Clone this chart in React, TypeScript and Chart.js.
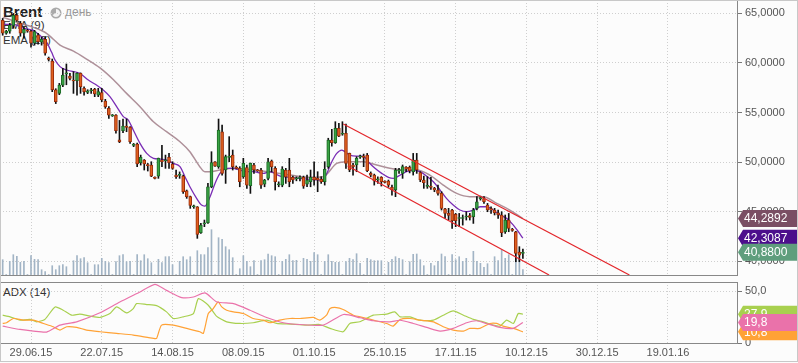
import React, { useEffect, useRef } from "react";
import { Chart, registerables } from "chart.js";
Chart.register(...registerables);

// ---------- DATA ----------
const OPEN = [
  64.3, 63.0, 63.2, 63.8, 64.8, 64.0, 63.0, 63.3, 63.2, 62.0,
  62.83, 62.1, 62.4, 60.5, 60.2, 57.3, 56.93, 57.77, 58.9, 58.68,
  58.28, 58.21, 58.95, 57.44, 57.03, 57.2, 57.34, 56.76, 57.0, 56.16,
  55.42, 54.66, 54.74, 52.25, 53.16, 53.63, 53.5, 51.68, 51.82, 49.93,
  50.2, 49.69, 49.69, 48.45, 48.58, 50.2, 50.13, 50.47, 49.8, 48.68,
  48.65, 48.58, 47.1, 46.5, 45.48, 45.48, 42.86, 43.76, 43.87, 47.5,
  50.03, 49.53, 53.06, 49.19, 50.47, 50.7, 49.46, 49.36, 48.52, 49.43,
  47.61, 49.69, 49.2, 49.19, 47.77, 48.35, 50.1, 49.36, 47.7, 47.67,
  49.19, 49.19, 48.45, 48.28, 48.35, 48.45, 47.77, 48.01, 48.45, 48.35,
  48.25, 48.01, 49.53, 52.22, 51.95, 53.4, 52.8, 52.9, 50.87, 49.7,
  49.7, 50.5, 50.6, 50.7, 48.85, 48.68, 48.2, 48.45, 48.08, 48.08,
  47.44, 47.17, 49.1, 48.85, 49.46, 49.46, 49.02, 50.2, 48.92, 48.18,
  47.54, 47.57, 47.34, 47.17, 46.83, 45.28, 44.81, 45.15, 44.71, 44.3,
  44.3, 44.45, 44.58, 44.48, 45.32, 46.3, 46.3, 45.65, 45.3, 45.15,
  44.88, 44.65, 42.96, 44.14, 43.2, 42.96, 40.9, 40.77,
];
const HIGH = [
  64.5, 63.3, 64.0, 65.0, 65.0, 64.2, 63.6, 63.4, 63.3, 63.3,
  63.0, 62.6, 62.6, 60.6, 60.4, 57.4, 57.94, 59.46, 59.9, 58.95,
  59.12, 59.0, 59.0, 57.6, 57.3, 57.44, 57.44, 57.44, 57.44, 56.33,
  55.59, 54.8, 54.8, 54.2, 54.34, 54.34, 53.57, 51.88, 51.9, 50.7,
  50.25, 49.86, 50.03, 48.5, 50.4, 51.68, 50.7, 50.87, 50.03, 49.19,
  49.0, 48.68, 47.17, 46.56, 45.65, 45.5, 43.8, 44.14, 47.84, 51.04,
  50.05, 54.34, 53.73, 50.7, 52.56, 51.21, 49.6, 49.53, 50.37, 49.69,
  49.9, 49.86, 49.25, 49.36, 48.25, 50.37, 50.2, 49.53, 48.0, 49.53,
  49.36, 50.37, 48.58, 48.5, 48.6, 48.58, 48.68, 49.19, 50.03, 49.02,
  48.52, 50.03, 52.4, 53.3, 54.07, 53.9, 54.07, 53.84, 50.9, 49.86,
  50.54, 50.7, 50.8, 50.87, 49.0, 48.78, 48.5, 48.52, 48.1, 48.18,
  47.67, 49.36, 49.36, 49.7, 49.53, 49.6, 50.87, 50.87, 49.02, 48.58,
  48.52, 48.45, 47.44, 47.67, 47.0, 45.32, 45.32, 45.22, 44.81, 44.81,
  44.65, 44.98, 44.81, 45.32, 46.5, 46.56, 46.5, 45.82, 45.48, 45.32,
  45.15, 44.98, 44.65, 44.81, 43.3, 43.0, 41.45, 41.2,
];
const LOW = [
  62.8, 62.9, 63.0, 63.5, 64.2, 62.7, 62.5, 63.1, 61.6, 61.8,
  61.9, 61.8, 60.8, 60.2, 57.1, 55.9, 56.8, 57.6, 57.8, 58.28,
  56.93, 56.76, 56.93, 56.76, 56.9, 56.93, 56.6, 56.6, 56.09, 55.42,
  54.41, 54.6, 52.9, 51.95, 52.96, 53.06, 51.88, 51.55, 49.53, 49.69,
  49.19, 49.09, 48.52, 48.3, 48.35, 49.53, 49.36, 49.36, 49.26, 48.35,
  48.35, 46.83, 46.33, 45.32, 45.32, 42.29, 42.79, 43.47, 43.8, 47.4,
  49.55, 49.36, 48.68, 47.84, 50.03, 49.19, 49.3, 47.5, 48.35, 47.34,
  46.83, 48.85, 49.05, 47.34, 47.5, 48.18, 49.0, 47.17, 47.5, 47.5,
  47.84, 47.5, 47.84, 48.1, 48.1, 47.34, 47.5, 47.5, 47.67, 47.0,
  47.84, 47.67, 49.36, 51.6, 51.88, 52.56, 52.7, 49.36, 49.02, 48.68,
  49.02, 50.37, 49.53, 49.02, 48.5, 47.67, 47.84, 47.57, 47.9, 47.44,
  46.66, 46.5, 48.85, 48.35, 49.02, 48.9, 48.68, 48.85, 48.01, 47.34,
  47.34, 47.24, 47.0, 46.66, 45.15, 44.3, 44.14, 43.3, 43.47, 43.47,
  43.63, 44.14, 44.14, 43.8, 45.15, 46.15, 45.82, 44.98, 44.81, 44.65,
  44.3, 42.46, 42.79, 42.96, 43.0, 39.93, 39.93, 40.26,
];
const CLOSE = [
  63.0, 63.2, 63.8, 64.8, 64.3, 63.0, 63.4, 63.2, 62.0, 63.16,
  62.15, 62.4, 61.0, 60.35, 57.3, 56.1, 57.77, 58.78, 59.0, 58.45,
  58.18, 58.95, 57.6, 57.1, 57.2, 57.27, 56.87, 57.1, 56.26, 55.59,
  54.74, 54.74, 53.16, 52.05, 53.63, 53.5, 52.05, 51.78, 49.8, 50.47,
  49.8, 49.63, 48.58, 48.35, 50.37, 50.03, 50.2, 49.93, 49.36, 48.52,
  48.75, 47.0, 46.5, 45.62, 45.58, 42.69, 43.63, 43.82, 47.5, 49.93,
  49.59, 53.23, 48.85, 50.54, 50.6, 49.53, 49.36, 48.01, 49.86, 47.67,
  49.86, 49.19, 49.1, 47.67, 48.18, 50.03, 49.5, 48.01, 47.8, 49.29,
  48.5, 48.01, 48.18, 48.4, 48.45, 47.57, 48.18, 48.45, 48.18, 48.18,
  48.01, 49.26, 52.22, 51.95, 53.4, 52.62, 52.9, 49.86, 49.19, 49.53,
  50.37, 50.55, 50.47, 49.12, 48.68, 48.1, 48.3, 48.01, 47.94, 47.67,
  47.17, 49.19, 49.2, 49.53, 49.29, 49.12, 50.2, 49.19, 48.18, 47.91,
  47.6, 47.44, 47.17, 46.83, 45.32, 44.81, 44.61, 44.07, 44.07, 44.4,
  44.4, 44.5, 44.41, 45.15, 45.99, 46.4, 45.99, 45.15, 45.15, 44.88,
  44.65, 42.86, 44.14, 43.3, 43.1, 40.77, 40.6, 40.88,
];
const VOLUME = [
  15.3, 0.5, 13.7, 20.3, 18.7, 12.7, 13.7, 0.5, 19.3, 15.7,
  15.3, 5.3, 3.3, 0.5, 9.3, 5.3, 9.3, 10.3, 8.3, 0.5,
  14.3, 19.3, 16.3, 17.3, 12.3, 0.5, 10.3, 10.3, 16.7, 13.7,
  12.3, 0.5, 13.3, 19.3, 20.3, 13.3, 13.7, 0.5, 20.3, 14.3,
  20.3, 16.3, 12.3, 0.5, 15.7, 12.3, 18.3, 18.3, 10.3, 0.5,
  13.7, 18.3, 15.3, 18.3, 0.5, 24.3, 20.3, 20.3, 27.3, 45.3,
  0.5, 37.3, 35.7, 28.3, 25.3, 17.3, 0.5, 6.3, 19.3, 13.7,
  8.3, 14.3, 0.5, 14.3, 15.3, 21.0, 19.3, 18.3, 0.5, 13.7,
  15.7, 20.3, 14.3, 14.7, 0.5, 16.7, 15.7, 13.7, 22.3, 20.3,
  0.5, 13.7, 20.3, 13.7, 12.7, 12.7, 0.5, 13.3, 16.7, 15.3,
  21.3, 11.7, 0.5, 16.7, 15.3, 14.3, 14.3, 14.3, 0.5, 12.7,
  15.7, 18.3, 16.7, 15.3, 0.5, 13.3, 20.7, 21.0, 15.3, 9.3,
  0.5, 11.7, 9.3, 13.7, 21.0, 18.3, 0.5, 20.3, 15.3, 18.3,
  13.7, 16.7, 0.5, 23.7, 13.7, 11.7, 7.7, 11.3, 0.5, 18.3,
  14.3, 25.3, 16.7, 20.3, 0.5, 18.3, 15.7, 5.3,
];
const EMA9: [number, number][] = [
  [0, 63.9], [3, 63.9], [6, 63.5], [8.5, 63.3], [10.5, 62.8], [12.4, 62.1], [13.8, 61.1], [14.8, 60.3],
  [16.2, 59.63], [18.1, 59.29], [21.8, 58.95], [24.2, 58.28], [26.5, 57.77], [28.4, 57.27], [30.3, 56.6],
  [32.2, 55.59], [34.1, 54.58], [35.5, 54.24], [36.9, 53.23], [38.8, 51.88], [40.7, 50.87], [42.6, 50.37],
  [44.4, 50.3], [46.3, 50.2], [48.2, 49.86], [50.1, 49.53], [51.5, 48.52], [52.9, 47.5], [54.8, 46.33],
  [56.2, 45.65], [57.1, 45.55], [58.6, 46.5], [60, 47.84], [61.4, 48.85], [63.3, 49.36], [65.1, 49.36],
  [67, 49.19], [68.9, 49.02], [70.8, 49.02], [73.6, 48.85], [75.5, 49.02], [78.4, 48.58], [81.2, 48.45],
  [84, 48.35], [86.8, 48.25], [89.7, 48.18], [91.1, 48.5], [93, 50.03], [94.4, 50.87], [95.8, 51.21],
  [96.7, 51.04], [98.1, 50.7], [100, 50.6], [101.9, 50.6], [103.3, 50.03], [105.2, 49.36], [107.1, 48.85],
  [109, 48.45], [110.4, 48.35], [112.3, 48.68], [114.1, 49.02], [116, 49.19], [117.9, 49.02], [119.8, 48.58],
  [121.7, 48.01], [123.6, 47.17], [125.4, 46.33], [127.3, 45.65], [129.2, 45.15], [131.1, 44.98], [133, 45.15],
  [134.9, 45.48], [136.7, 45.48], [138.6, 45.15], [140.5, 44.65], [142.4, 44.31], [144.3, 43.63], [145.7, 42.96],
  [147, 42.3087],
];
const EMA27: [number, number][] = [
  [0, 64.6], [1.1, 64.5], [4.9, 64.0], [8.7, 63.6], [12.4, 63.0], [14.3, 62.4], [16.2, 61.8], [20, 61.2],
  [23.7, 60.4], [27.5, 59.5], [31.3, 58.3], [35, 56.93], [38.8, 55.59], [42.6, 54.07], [46.3, 53.06],
  [50.1, 52.05], [52.9, 51.04], [55.7, 49.53], [57.1, 49.02], [58.6, 49.02], [61.4, 49.19], [65.1, 49.36],
  [70.8, 49.19], [75.5, 49.0], [81.2, 48.68], [86.8, 48.45], [90.6, 48.52], [94.4, 49.86], [97.2, 50.03],
  [101.9, 50.03], [105.7, 49.7], [109.4, 49.36], [113.2, 49.19], [117, 49.19], [120.7, 48.68], [124.5, 47.67],
  [128.3, 46.83], [132, 46.5], [135.8, 46.5], [139.6, 45.82], [143.3, 45.15], [147, 44.2892],
];
const CHANNEL_UPPER: [number, number][] = [[96.25, 53.84], [177.1, 38.59]];
const CHANNEL_LOWER: [number, number][] = [[97.5, 49.6], [154.4, 38.59]];

const ADX: [number, number][] = [
  [0, 16.3], [4.9, 13.1], [8.7, 11.5], [12.4, 10.6], [16.2, 17.3], [20.9, 20.5], [27.5, 29.2], [33.1, 39.7],
  [38.8, 49.4], [43, 56.7], [46.3, 50.9], [50.6, 43.9], [53.9, 44.5], [57.2, 48.4], [60.5, 39.7], [65.2, 38.1],
  [69.9, 31.7], [74.6, 24.7], [79.3, 19.6], [84, 17.9], [90.6, 17.3], [96.3, 27.6], [101, 24.4], [104.7, 21.5],
  [109.4, 20.5], [112.3, 22], [116, 18.9], [119.8, 15.1], [123.6, 11.5], [127.3, 14.1], [131.1, 19.6],
  [133.9, 21.5], [136.7, 18.9], [140.5, 15.1], [144.3, 14.1], [147, 19.8],
];
const PLUS_DI: [number, number][] = [
  [0, 26.9], [2.1, 25.3], [4.9, 22.1], [7.7, 22.8], [9.6, 20.5], [11.9, 22.8], [14.8, 34.9], [17.1, 31.7],
  [19.5, 26.9], [21.8, 27.9], [24.7, 26.0], [27.5, 24.7], [30.3, 28.5], [32.2, 34.9], [35, 29.2], [36.9, 33.3],
  [37.8, 38.1], [40.7, 37.2], [43.5, 36.2], [46.3, 30.1], [48.2, 23.7], [51, 25.3], [53.9, 28.5], [55.3, 42.9],
  [58.1, 36.5], [60.4, 26.0], [63.3, 20.5], [67, 18.9], [70.8, 19.6], [74.6, 22.1], [77.4, 18.9], [81.2, 18.3],
  [85.9, 17.3], [89.6, 17.9], [92.5, 14.1], [96.2, 10.9], [98.1, 18.9], [100.9, 20.5], [104.7, 26.9],
  [108.5, 27.9], [110.8, 30.1], [112.3, 25.3], [115.1, 25.3], [117.9, 22.1], [121.7, 22.1], [124.5, 26.9],
  [127.3, 31.1], [130.2, 26.9], [133, 22.8], [135.8, 20.5], [138.6, 17.3], [140.5, 16.3], [142.4, 22.1],
  [144.3, 18.9], [145.7, 28.5], [147, 27.9],
];
const MINUS_DI: [number, number][] = [
  [0, 18.9], [1.1, 19.6], [3, 23.7], [5.8, 22.1], [8.7, 22.1], [11.5, 18.9], [14.3, 15.7], [16.2, 12.5],
  [18.1, 15.7], [20.9, 15.1], [23.7, 12.5], [27.5, 10.9], [32.2, 9.3], [36.9, 7.7], [42.6, 4.5], [43.5, 4.5],
  [44.9, 17.3], [48.2, 17.3], [52, 14.1], [55.7, 10.9], [56.7, 9.3], [58.1, 28.5], [59.5, 33.3], [60.9, 39.7],
  [61.9, 34.9], [63.3, 31.7], [65.2, 30.1], [68, 28.5], [70.8, 23.7], [73.6, 22.1], [75.5, 19.6], [78.3, 22.1],
  [81.2, 23.7], [84, 23.7], [87.8, 24.7], [89.6, 22.1], [91.5, 26.9], [92.5, 33.3], [94.3, 34.3], [96.2, 32.4],
  [99.1, 26.9], [101.9, 24.7], [104.7, 22.1], [108.5, 18.9], [110.3, 16.3], [112.3, 22.8], [115.1, 23.7],
  [117.9, 22.1], [121.7, 20.5], [124.5, 15.7], [127.3, 12.5], [130.2, 11.5], [132, 14.1], [134.8, 14.1],
  [137.7, 18.9], [139.6, 18.9], [141.4, 16.3], [144.3, 14.1], [147, 10.8],
];

const DATE_LABELS = ["29.06.15", "22.07.15", "14.08.15", "08.09.15", "01.10.15", "25.10.15", "17.11.15", "10.12.15", "30.12.15", "19.01.16"];
const FIRST_LABEL_INDEX = 8;
const LABEL_STEP = 20;
const PRICE_TICKS = [40, 45, 50, 55, 60, 65];
const ADX_TICKS = [0, 50];

// ---------- STYLE ----------
const FONT = "'Liberation Sans', Arial, Helvetica, sans-serif";
const X_MIN = -0.76;
const X_MAX = 207.5;
const GRID = "#cfcfcf";
const AXIS_LINE = "#888888";

const tickIdx = DATE_LABELS.map((_, i) => FIRST_LABEL_INDEX + i * LABEL_STEP);
const fmt = (v: number, d: number) => (v === 0 ? "0" : v.toFixed(d).replace(".", ","));
const pts = (arr: [number, number][]) => arr.map(([x, y]) => ({ x, y }));

function drawTag(ctx: CanvasRenderingContext2D, x: number, y: number, w: number, text: string, color: string) {
  const h = 17, p = 5;
  ctx.beginPath();
  ctx.moveTo(x, y);
  ctx.lineTo(x + p, y - h / 2);
  ctx.lineTo(x + w, y - h / 2);
  ctx.lineTo(x + w, y + h / 2);
  ctx.lineTo(x + p, y + h / 2);
  ctx.closePath();
  ctx.fillStyle = color;
  ctx.fill();
  ctx.fillStyle = "#ffffff";
  ctx.font = `12px ${FONT}`;
  ctx.textBaseline = "middle";
  ctx.textAlign = "left";
  ctx.fillText(text, x + p + 1, y + 0.5);
}

function makeFrame(topColor: string) {
  return {
    id: "frame",
    afterDraw(chart: any) {
      const { ctx } = chart;
      const { left, right, top, bottom } = chart.chartArea;
      ctx.save();
      ctx.lineWidth = 1;
      ctx.strokeStyle = topColor;
      ctx.beginPath();
      ctx.moveTo(left, top + 0.5);
      ctx.lineTo(right, top + 0.5);
      ctx.stroke();
      ctx.strokeStyle = "#bdbdbd";
      ctx.beginPath();
      ctx.moveTo(left + 0.5, top);
      ctx.lineTo(left + 0.5, bottom);
      ctx.stroke();
      ctx.strokeStyle = AXIS_LINE;
      ctx.beginPath();
      ctx.moveTo(right + 0.5, top);
      ctx.lineTo(right + 0.5, bottom + 1);
      ctx.moveTo(left, bottom + 0.5);
      ctx.lineTo(right + 1, bottom + 0.5);
      ctx.stroke();
      ctx.restore();
    },
  };
}

function makeTags(axis: string, items: { v: number; color: string; d: number }[]) {
  return {
    id: "tags",
    afterDraw(chart: any) {
      const { ctx } = chart;
      const s = chart.scales[axis];
      const x = chart.chartArea.right + 1;
      ctx.save();
      items.forEach((t) => drawTag(ctx, x, s.getPixelForValue(t.v), 62, fmt(t.v, t.d), t.color));
      ctx.restore();
    },
  };
}

const fixWidth = (s: any) => {
  s.width = 61;
  s.paddingTop = 0;
  s.paddingBottom = 0;
};

export default function App() {
  const mainRef = useRef<HTMLCanvasElement>(null);
  const adxRef = useRef<HTMLCanvasElement>(null);

  useEffect(() => {
    const idx = CLOSE.map((_, i) => i);
    const isUp = (i: number) => CLOSE[i] >= OPEN[i];
    const xScaleBase = {
      type: "linear" as const,
      min: X_MIN,
      max: X_MAX,
      offset: false,
      afterBuildTicks: (s: any) => {
        s.ticks = tickIdx.map((v) => ({ value: v }));
      },
      grid: { color: GRID, drawTicks: false, lineWidth: 1, offset: false },
      border: { display: false, dash: [1, 2] },
    };

    const main = new Chart(mainRef.current!, {
      type: "bar",
      data: {
        datasets: [
          { type: "line", data: pts(CHANNEL_UPPER), borderColor: "#e3262b", borderWidth: 1.2, pointRadius: 0, yAxisID: "y", order: 0 },
          { type: "line", data: pts(CHANNEL_LOWER), borderColor: "#e3262b", borderWidth: 1.2, pointRadius: 0, yAxisID: "y", order: 0 },
          {
            type: "bar",
            data: idx.map((i) => ({ x: i, y: [OPEN[i], CLOSE[i]] })),
            backgroundColor: idx.map((i) => (isUp(i) ? "#3aa344" : "#e0601f")),
            borderColor: idx.map((i) => (isUp(i) ? "#1b6a25" : "#9a2d0c")),
            borderWidth: 1,
            borderSkipped: false,
            barThickness: 3,
            minBarLength: 1,
            grouped: false,
            yAxisID: "y",
            order: 1,
          } as any,
          {
            type: "bar",
            data: idx.map((i) => ({ x: i, y: [LOW[i], HIGH[i]] })),
            backgroundColor: "#111111",
            barThickness: 1,
            grouped: false,
            yAxisID: "y",
            order: 2,
          } as any,
          {
            type: "line",
            data: pts(EMA9),
            borderColor: "#7a2db5",
            borderWidth: 1.3,
            pointRadius: 0,
            cubicInterpolationMode: "monotone",
            yAxisID: "y",
            order: 3,
          },
          {
            type: "line",
            data: pts(EMA27),
            borderColor: "rgba(160,125,135,0.85)",
            borderWidth: 1.5,
            pointRadius: 0,
            cubicInterpolationMode: "monotone",
            yAxisID: "y",
            order: 4,
          },
          {
            type: "bar",
            data: idx.map((i) => ({ x: i, y: VOLUME[i] })),
            backgroundColor: "#a2b4c5",
            barThickness: 1,
            grouped: false,
            yAxisID: "yv",
            order: 6,
          } as any,
        ],
      },
      options: {
        responsive: false,
        animation: false,
        devicePixelRatio: 1,
        events: [],
        layout: { padding: { top: 0, right: 0, bottom: 1, left: 0 } },
        plugins: { legend: { display: false }, tooltip: { enabled: false } },
        scales: {
          x: {
            ...xScaleBase,
            ticks: { display: false },
            afterFit: (s: any) => {
              s.height = 0;
              s.paddingLeft = 0;
              s.paddingRight = 0;
            },
          },
          y: {
            position: "right",
            min: 38.59,
            max: 66.36,
            afterBuildTicks: (s: any) => {
              s.ticks = PRICE_TICKS.map((v) => ({ value: v }));
            },
            ticks: {
              callback: (v: any) => fmt(Number(v), 4),
              color: "#555",
              padding: 3,
              font: { family: FONT, size: 11 },
            },
            grid: { color: GRID, tickColor: "#777", tickLength: 5, tickBorderDash: [], drawTicks: true },
            border: { display: false, dash: [1, 2] },
            afterFit: fixWidth,
          },
          yv: { display: false, min: 0, max: 275 },
        } as any,
      },
      plugins: [
        makeFrame("#bdbdbd"),
        makeTags("y", [
          { v: EMA27[EMA27.length - 1][1], color: "#7a4e64", d: 4 },
          { v: EMA9[EMA9.length - 1][1], color: "#4c0e8c", d: 4 },
          { v: CLOSE[CLOSE.length - 1], color: "#5f9e7d", d: 4 },
        ]),
      ],
    } as any);

    const adx = new Chart(adxRef.current!, {
      type: "line",
      data: {
        datasets: [
          { data: pts(PLUS_DI), borderColor: "#a8d04f", borderWidth: 1.2, pointRadius: 0, tension: 0.2, order: 2 },
          { data: pts(MINUS_DI), borderColor: "#ffa236", borderWidth: 1.2, pointRadius: 0, tension: 0.2, order: 1 },
          { data: pts(ADX), borderColor: "#ea72aa", borderWidth: 1.2, pointRadius: 0, tension: 0.2, order: 0 },
        ],
      },
      options: {
        responsive: false,
        animation: false,
        devicePixelRatio: 1,
        events: [],
        layout: { padding: { top: 6, right: 0, bottom: 0, left: 0 } },
        plugins: { legend: { display: false }, tooltip: { enabled: false } },
        scales: {
          x: {
            ...xScaleBase,
            ticks: {
              callback: (v: any) => {
                const k = tickIdx.indexOf(Number(v));
                return k >= 0 ? DATE_LABELS[k] : "";
              },
              color: "#555",
              padding: 3,
              maxRotation: 0,
              autoSkip: false,
              font: { family: FONT, size: 11 },
            },
            afterFit: (s: any) => {
              s.height = 20;
              s.paddingLeft = 0;
              s.paddingRight = 0;
            },
          },
          y: {
            position: "right",
            min: 0,
            max: 59,
            afterBuildTicks: (s: any) => {
              s.ticks = ADX_TICKS.map((v) => ({ value: v }));
            },
            ticks: {
              callback: (v: any) => fmt(Number(v), 1),
              color: "#555",
              padding: 3,
              font: { family: FONT, size: 11 },
            },
            grid: {
              color: (c: any) => (c.tick && c.tick.value === 0 ? "rgba(0,0,0,0)" : GRID),
              tickColor: "#777",
              tickLength: 5,
              tickBorderDash: [],
              drawTicks: true,
            },
            border: { display: false, dash: [1, 2] },
            afterFit: fixWidth,
          },
        } as any,
      },
      plugins: [
        makeFrame(AXIS_LINE),
        makeTags("y", [
          { v: PLUS_DI[PLUS_DI.length - 1][1], color: "#a8d04f", d: 1 },
          { v: MINUS_DI[MINUS_DI.length - 1][1], color: "#ffa236", d: 1 },
          { v: ADX[ADX.length - 1][1], color: "#ea72aa", d: 1 },
        ]),
      ],
    } as any);

    return () => {
      main.destroy();
      adx.destroy();
    };
  }, []);

  const label = (text: string, left: number, top: number, size: number, extra: any = {}) => (
    <div
      style={{
        position: "absolute",
        left,
        top,
        fontFamily: FONT,
        fontSize: size,
        lineHeight: 1,
        color: "#333",
        whiteSpace: "nowrap",
        ...extra,
      }}
    >
      {text}
    </div>
  );

  return (
    <div style={{ position: "fixed", left: 0, top: 0, width: 798, height: 363, background: "#fcfcfc", overflow: "hidden" }}>
      {label("Brent", 3, 4, 15, { fontWeight: "bold", color: "#222" })}
      <svg style={{ position: "absolute", left: 50, top: 7 }} width="12" height="12" viewBox="0 0 12 12">
        <circle cx="6" cy="6" r="5.5" fill="#aaaaaa" />
        <path d="M6,6 L6,2 A4,4 0 1 1 2.5,8 Z" fill="#f4f4f4" />
      </svg>
      {label("день", 65, 6, 12, { color: "#999" })}
      {label("EMA (9)", 3, 20, 11.5)}
      {label("EMA (27)", 3, 35, 11.5)}
      {label("ADX (14)", 3, 287, 11.5)}
      <canvas ref={mainRef} width={798} height={276} style={{ position: "absolute", left: 0, top: 0, display: "block" }} />
      <canvas ref={adxRef} width={798} height={87} style={{ position: "absolute", left: 0, top: 276, display: "block" }} />
      <div
        style={{
          position: "absolute",
          left: 0,
          top: 0,
          width: 798,
          height: 362,
          boxSizing: "border-box",
          border: "1px solid #c8c8c8",
          pointerEvents: "none",
        }}
      />
    </div>
  );
}
